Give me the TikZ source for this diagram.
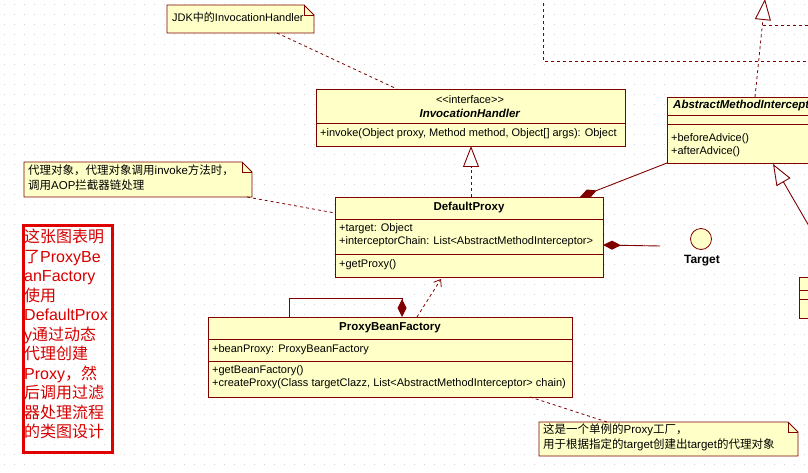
\documentclass[tikz,border=0pt]{standalone}
\usepackage{fontspec}
\setmainfont{Liberation Sans}
\newfontfamily\cjk{Noto Sans CJK SC}
\usetikzlibrary{arrows.meta}
\definecolor{umlfill}{RGB}{255,255,200}
\definecolor{umlline}{RGB}{128,0,0}
\definecolor{notefill}{RGB}{255,255,200}
\definecolor{redbox}{RGB}{225,0,0}
\definecolor{redtxt}{RGB}{215,0,0}
\definecolor{dotc}{RGB}{210,210,210}
\begin{document}
\begin{tikzpicture}[x=1pt,y=-1pt,
  line/.style={draw=umlline, line width=0.9pt},
  cls/.style={draw=umlline, fill=umlfill, line width=0.9pt, anchor=north west, inner sep=0pt, outer sep=0pt},
  notebox/.style={anchor=north west, inner sep=0pt, outer sep=0pt},
  notedraw/.style={draw=umlline, fill=notefill, line width=0.8pt},
  divl/.style={draw=umlline, line width=0.8pt},
  t/.style={anchor=west, inner sep=0pt, font=\fontsize{11}{13}\selectfont},
  tc/.style={anchor=center, inner sep=0pt, font=\fontsize{11}{13}\selectfont},
  nm/.style={anchor=center, inner sep=0pt, font=\fontsize{11.5}{13}\selectfont\bfseries},
  nt/.style={anchor=north west, inner sep=0pt, align=left, font=\fontsize{11.5}{15}\selectfont},
  dashline/.style={draw=umlline, line width=0.8pt, dash pattern=on 3pt off 3pt},
  gen/.style={-{Triangle[open, length=21pt, width=16pt, fill=white, line width=0.9pt]}},
  comp/.style={-{Diamond[length=18pt, width=9pt, fill=umlline]}},
  dep/.style={-{Straight Barb[length=6pt, width=9pt, line width=0.8pt]}},
]
\useasboundingbox (0,0) rectangle (808,473);
\clip (0,0) rectangle (808,473);
\fill[white] (0,0) rectangle (808,473);
\foreach \i in {0,...,80}{\foreach \j in {0,...,47}{\fill[dotc] (\i*10+4,\j*10+4) rectangle +(1,1);}}

% ---------- top-right dashed lines ----------
\coordinate (trA) at (543,-3);
\coordinate (trB) at (815,61);
\draw[dashline] (trA) |- (trB);
\coordinate (trC) at (763,25);
\coordinate (trD) at (815,25);
\draw[dashline] (trC) -- (trD);

% ---------- classes ----------
\node[cls, minimum width=309pt, minimum height=57pt] (ih) at (316,89) {};
\draw[divl] (316,123) -- (625,123);
\node[tc] (ihs) at (470,100) {<{}<interface>{}>};
\node[nm] (ihn) at (470,113) {\textit{InvocationHandler}};
\node[t] (iho) at (320,134) {+invoke(Object proxy, Method method, Object[] args): Object};

\node[cls, minimum width=220pt, minimum height=66pt] (ami) at (667,97) {};
\draw[divl] (667,115) -- (890,115);
\draw[divl] (667,124) -- (890,124);
\node[nm, anchor=west] (amin) at (673,106) {\textit{AbstractMethodInterceptor}};
\node[t] (amio1) at (671,139) {+beforeAdvice()};
\node[t] (amio2) at (671,152) {+afterAdvice()};

\node[cls, minimum width=268pt, minimum height=80pt] (dp) at (335,197) {};
\draw[divl] (335,219) -- (603,219);
\draw[divl] (335,254) -- (603,254);
\node[nm] (dpn) at (469,208) {DefaultProxy};
\node[t] (dpa1) at (339,229) {+target: Object};
\node[t] (dpa2) at (339,242) {+interceptorChain: List<AbstractMethodInterceptor>};
\node[t] (dpo1) at (339,265) {+getProxy()};

\node[cls, minimum width=364pt, minimum height=80pt] (pbf) at (208,317) {};
\draw[divl] (208,339) -- (572,339);
\draw[divl] (208,361) -- (572,361);
\node[nm] (pbfn) at (390,328) {ProxyBeanFactory};
\node[t] (pbfa) at (212,350) {+beanProxy: ProxyBeanFactory};
\node[t] (pbfo1) at (212,371) {+getBeanFactory()};
\node[t] (pbfo2) at (212,384) {+createProxy(Class targetClazz, List<AbstractMethodInterceptor> chain)};

\node[cls, minimum width=40pt, minimum height=41pt] (pb) at (799,277) {};
\draw[divl] (799,290) -- (840,290);
\draw[divl] (799,299) -- (840,299);

% ---------- Target ----------
\node[circle, draw=umlline, fill=umlfill, minimum size=21pt, inner sep=0pt, line width=0.8pt] (tg) at (701,239) {};
\node[nm, font=\fontsize{12}{14}\selectfont\bfseries] (tgl) at (702,261) {Target};

% ---------- notes ----------
\node[notebox, minimum width=147pt, minimum height=28pt] (n1) at (167,5) {};
\draw[notedraw] (n1.north west) -- ([xshift=-10pt]n1.north east) -- ([yshift=-10pt]n1.north east) -- (n1.south east) -- (n1.south west) -- cycle;
\draw[notedraw, fill=none] ([xshift=-10pt]n1.north east) |- ([yshift=-10pt]n1.north east);
\node[t] (n1t) at (172,17) {JDK{\cjk 中的}InvocationHandler};

\node[notebox, minimum width=228pt, minimum height=35pt] (n2) at (24,162) {};
\draw[notedraw] (n2.north west) -- ([xshift=-10pt]n2.north east) -- ([yshift=-10pt]n2.north east) -- (n2.south east) -- (n2.south west) -- cycle;
\draw[notedraw, fill=none] ([xshift=-10pt]n2.north east) |- ([yshift=-10pt]n2.north east);
\node[nt] (n2t) at (28,165) {{\cjk 代理对象，代理对象调用}invoke{\cjk 方法时，}\\{\cjk 调用}AOP{\cjk 拦截器链处理}};

\node[notebox, minimum width=259pt, minimum height=34pt] (n3) at (539,422) {};
\draw[notedraw] (n3.north west) -- ([xshift=-10pt]n3.north east) -- ([yshift=-10pt]n3.north east) -- (n3.south east) -- (n3.south west) -- cycle;
\draw[notedraw, fill=none] ([xshift=-10pt]n3.north east) |- ([yshift=-10pt]n3.north east);
\node[nt] (n3t) at (543,424) {{\cjk 这是一个单例的}Proxy{\cjk 工厂，}\\{\cjk 用于根据指定的}target{\cjk 创建出}target{\cjk 的代理对象}};

% ---------- red box ----------
\node[draw=redbox, line width=3pt, anchor=north west, minimum width=89pt, minimum height=227pt, inner sep=0pt] (rb) at (21.5,223.5) {};
\node[anchor=north west, inner sep=0pt, align=left, text=redtxt, font=\fontsize{16}{19.5}\selectfont] (rt) at (24,229)
 {{\cjk 这张图表明}\\{\cjk 了}ProxyBe\\anFactory\\{\cjk 使用}\\DefaultProx\\y{\cjk 通过动态}\\{\cjk 代理创建}\\Proxy{\cjk ，然}\\{\cjk 后调用过滤}\\{\cjk 器处理流程}\\{\cjk 的类图设计}};

% ---------- connectors ----------
\coordinate (n1a) at (277,33);
\coordinate (ih1) at (397,89);
\draw[dashline] (n1a) -- (ih1);

\draw[dashline, gen] (dp.north -| 471,0) -- (471,146);

\coordinate (dpTR) at (580,197);
\draw[line, comp] (ami.south west) -- (dpTR);

\coordinate (tgL) at (660,246);
\coordinate (dpR) at (603,245);
\draw[line, comp] (tgL) -- (dpR);

\coordinate (n2a) at (247,197);
\coordinate (dpL) at (335,213);
\draw[dashline] (n2a) -- (dpL);

\coordinate (sa1) at (289,317);
\coordinate (sa2) at (402,298);
\coordinate (sa3) at (402,317);
\draw[line, comp] (sa1) |- (sa2) -- (sa3);

\coordinate (pbfT) at (417,317);
\coordinate (dpB) at (441,279);
\draw[dashline, dep] (pbfT) -- (dpB);

\coordinate (pbfBR) at (530,397);
\coordinate (n3T) at (607,422);
\draw[dashline] (pbfBR) -- (n3T);

\coordinate (amiT) at (755,97);
\coordinate (topTri) at (765,-1);
\draw[dashline, gen] (amiT) -- (topTri);

\coordinate (brA) at (831,264);
\coordinate (amiBR) at (773,164);
\draw[line, gen] (brA) -- (amiBR);
\end{tikzpicture}
\end{document}
